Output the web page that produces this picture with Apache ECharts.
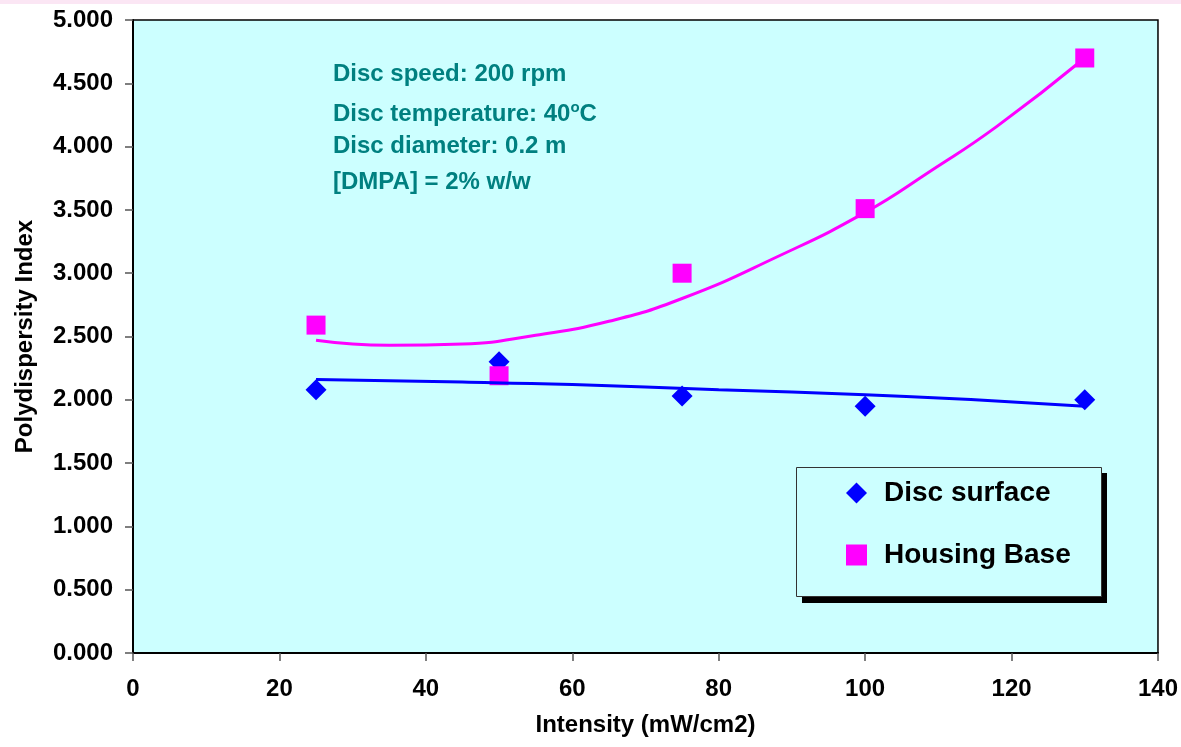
<!DOCTYPE html>
<html>
<head>
<meta charset="utf-8">
<script src="https://cdn.jsdelivr.net/npm/echarts@6/dist/echarts.min.js"></script>
<style>
html,body{margin:0;padding:0;background:#fff;}
#chart{width:1181px;height:747px;}
</style>
</head>
<body>
<div id="chart"></div>
<script>
// ---- data ----
const intensity = [25, 50, 75, 100, 130];
const discSurface = [2.08, 2.30, 2.03, 1.95, 2.00];
const housingBase = [2.59, 2.19, 3.00, 3.51, 4.70];

// trend lines
const discTrendX = [25, 45, 60, 80, 100, 115, 130];
const discTrendY = [2.16, 2.14, 2.12, 2.08, 2.04, 2.00, 1.95];
const housingTrendX = [25, 35, 45, 55, 65, 75, 88, 100, 109, 118, 130];
const housingTrendY = [2.47, 2.43, 2.44, 2.51, 2.62, 2.80, 3.13, 3.48, 3.81, 4.16, 4.70];

const annotations = [
  'Disc speed: 200 rpm',
  '{a|Disc temperature: 40}{s|o}{a|C}',
  'Disc diameter: 0.2 m',
  '[DMPA] = 2% w/w'
];

const FONT = '"Liberation Sans", Arial, sans-serif';
const pairs = (xs, ys) => xs.map((x, i) => [x, ys[i]]);

const chart = echarts.init(document.getElementById('chart'));
const annotTop = [74, 112, 146, 182];

chart.setOption({
  backgroundColor: '#ffffff',
  animation: false,
  grid: {
    left: 133, right: 23, top: 20, bottom: 94,
    show: true, backgroundColor: '#CCFFFF', borderColor: '#000', borderWidth: 1.5
  },
  xAxis: {
    type: 'value', min: 0, max: 140, interval: 20,
    name: 'Intensity (mW/cm2)', nameLocation: 'middle', nameGap: 60,
    nameTextStyle: { fontFamily: FONT, fontWeight: 'bold', fontSize: 24, color: '#000' },
    axisLine: { lineStyle: { color: '#000', width: 2 } },
    axisTick: { show: true, length: 8, lineStyle: { color: '#555', width: 1.5 } },
    axisLabel: { fontFamily: FONT, fontWeight: 'bold', fontSize: 24, color: '#000', margin: 24 },
    splitLine: { show: false }
  },
  yAxis: {
    type: 'value', min: 0, max: 5, interval: 0.5,
    name: 'Polydispersity Index', nameLocation: 'middle', nameGap: 96, nameRotate: 90,
    nameTextStyle: { fontFamily: FONT, fontWeight: 'bold', fontSize: 24, color: '#000' },
    axisLine: { lineStyle: { color: '#000', width: 2 } },
    axisTick: { show: true, length: 8, lineStyle: { color: '#555', width: 1.5 } },
    axisLabel: { fontFamily: FONT, fontWeight: 'bold', fontSize: 24, color: '#000', margin: 20,
      formatter: v => v.toFixed(3) },
    splitLine: { show: false }
  },
  legend: {
    orient: 'vertical', left: 841, top: 474,
    itemWidth: 21, itemHeight: 21, itemGap: 34,
    textStyle: { fontFamily: FONT, fontWeight: 'bold', fontSize: 28, color: '#000', padding: [0, 0, 0, 12] },
    data: [
      { name: 'Disc surface', icon: 'path://M0,10L10,0L20,10L10,20Z', itemStyle: { opacity: 1 } },
      { name: 'Housing Base', icon: 'rect', itemStyle: { opacity: 1 } }
    ],
    z: 10
  },
  graphic: [
    { type: 'rect', left: 0, top: 0, shape: { width: 1181, height: 4 }, style: { fill: '#FBE6F4' }, silent: true },
    { type: 'rect', left: 802, top: 473, z: 5, shape: { width: 305, height: 130 }, style: { fill: '#000' }, silent: true },
    { type: 'rect', left: 796, top: 467, z: 6, shape: { width: 305, height: 129 }, style: { fill: '#CCFFFF', stroke: '#333', lineWidth: 1 }, silent: true }
  ].concat(annotations.map((t, i) => ({
    type: 'text', left: 333, top: annotTop[i] - 12, z: 7, silent: true,
    style: {
      text: t, fill: '#008080', font: 'bold 24px ' + FONT,
      rich: {
        a: { fontFamily: FONT, fontWeight: 'bold', fontSize: 24, fill: '#008080', color: '#008080' },
        s: { fontFamily: FONT, fontWeight: 'bold', fontSize: 15, fill: '#008080', color: '#008080', verticalAlign: 'top', padding: [0, 0, 14, 0] }
      }
    }
  }))),
  series: [
    {
      name: 'Disc surface', type: 'scatter', symbol: 'diamond', symbolSize: 21,
      itemStyle: { color: '#0000FF', opacity: 1 }, data: pairs(intensity, discSurface), z: 3
    },
    {
      name: 'Housing Base', type: 'scatter', symbol: 'rect', symbolSize: 19,
      itemStyle: { color: '#FF00FF', opacity: 1 }, data: pairs(intensity, housingBase), z: 3
    },
    {
      name: 'Disc trend', type: 'line', smooth: true, showSymbol: false, symbol: 'none',
      lineStyle: { color: '#0000FF', width: 3 }, data: pairs(discTrendX, discTrendY), z: 4
    },
    {
      name: 'Housing trend', type: 'line', smooth: true, showSymbol: false, symbol: 'none',
      lineStyle: { color: '#FF00FF', width: 3 }, data: pairs(housingTrendX, housingTrendY), z: 4
    }
  ]
});
</script>
</body>
</html>
